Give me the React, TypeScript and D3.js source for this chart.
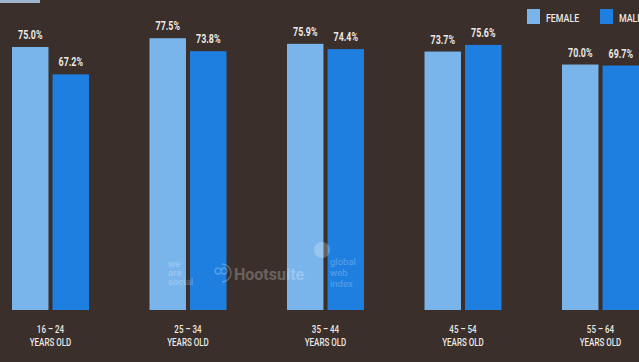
import React from "react";
import * as d3 from "d3";

const W = 639;
const H = 362;

const ageGroups = ["16 – 24", "25 – 34", "35 – 44", "45 – 54", "55 – 64"];
const femaleValues = [75.0, 77.5, 75.9, 73.7, 70.0];
const maleValues = [67.2, 73.8, 74.4, 75.6, 69.7];
const seriesKeys = ["FEMALE", "MALE"];

const BG = "#3a2f2a";
const FEMALE_COLOR = "#79b5eb";
const MALE_COLOR = "#1f7fe0";
const TEXT = "#ebe8e4";
const FONT = "Roboto, 'DejaVu Sans', sans-serif";

export default function App() {
  const x = d3.scaleBand<string>().domain(ageGroups).range([12, 639]).paddingInner(0.44).paddingOuter(0);
  const xs = d3.scaleBand<string>().domain(seriesKeys).range([0, x.bandwidth()]).paddingInner(0.1);
  const y = d3.scaleLinear().domain([0, 88.4]).range([310, 0]);
  const color = d3.scaleOrdinal<string, string>().domain(seriesKeys).range([FEMALE_COLOR, MALE_COLOR]);

  const rows = ageGroups.map((g, i) => ({ group: g, FEMALE: femaleValues[i], MALE: maleValues[i] }));

  return (
    <svg width={W} height={H} style={{ position: "absolute", left: 0, top: 0, display: "block" }}>
      <rect x={0} y={0} width={W} height={H} fill={BG} />
      <rect x={0} y={0} width={40} height={3} fill="#9fb6cc" />

      {rows.map((r) => (
        <g key={r.group} transform={`translate(${x(r.group)},0)`}>
          {seriesKeys.map((k) => {
            const v = (r as any)[k] as number;
            const bx = xs(k)!;
            const cx = bx + xs.bandwidth() / 2;
            return (
              <g key={k}>
                <rect x={bx} y={y(v)} width={xs.bandwidth()} height={y(0) - y(v)} fill={color(k)} />
                <text
                  transform={`translate(${cx},${y(v) - 8}) scale(0.74,1)`}
                  textAnchor="middle"
                  fontFamily={FONT}
                  fontWeight="bold"
                  fontSize={12}
                  fill={TEXT}
                >
                  {v.toFixed(1)}%
                </text>
              </g>
            );
          })}
          <text
            transform={`translate(${x.bandwidth() / 2},333) scale(0.8,1)`}
            textAnchor="middle"
            fontFamily={FONT}
            fontWeight="500"
            fontSize={10}
            fill={TEXT}
          >
            {r.group}
          </text>
          <text
            transform={`translate(${x.bandwidth() / 2},346) scale(0.8,1)`}
            textAnchor="middle"
            fontFamily={FONT}
            fontWeight="500"
            fontSize={10}
            fill={TEXT}
          >
            YEARS OLD
          </text>
        </g>
      ))}

      {/* watermark logos */}
      <g fill="#ffffff" opacity={0.24} fontFamily={FONT}>
        <text x={168} y={267} fontSize={9.5} fontWeight="500">we</text>
        <text x={168} y={276} fontSize={9.5} fontWeight="500">are</text>
        <text x={168} y={285} fontSize={9.5} fontWeight="500">social</text>
        <path d="M222,264 a7,7 0 0 1 0,18 M218,268 a3,3 0 1 0 0.1,0 M224,268 a3,3 0 1 0 0.1,0" fill="none" stroke="#ffffff" strokeWidth={1.5} />
        <text x={234} y={280} fontSize={16} fontWeight="bold">Hootsuite</text>
        <circle cx={322} cy={250} r={8} />
        <text x={330} y={265} fontSize={9.5}>global</text>
        <text x={330} y={276} fontSize={9.5}>web</text>
        <text x={330} y={287} fontSize={9.5}>index</text>
      </g>

      {/* legend */}
      {seriesKeys.map((k, i) => {
        const lx = [527, 600][i];
        return (
          <g key={k}>
            <rect x={lx} y={9} width={13} height={15} fill={color(k)} />
            <text
              transform={`translate(${lx + 19},22) scale(0.8,1)`}
              fontFamily={FONT}
              fontWeight="500"
              fontSize={11}
              fill={TEXT}
            >
              {k}
            </text>
          </g>
        );
      })}
    </svg>
  );
}
